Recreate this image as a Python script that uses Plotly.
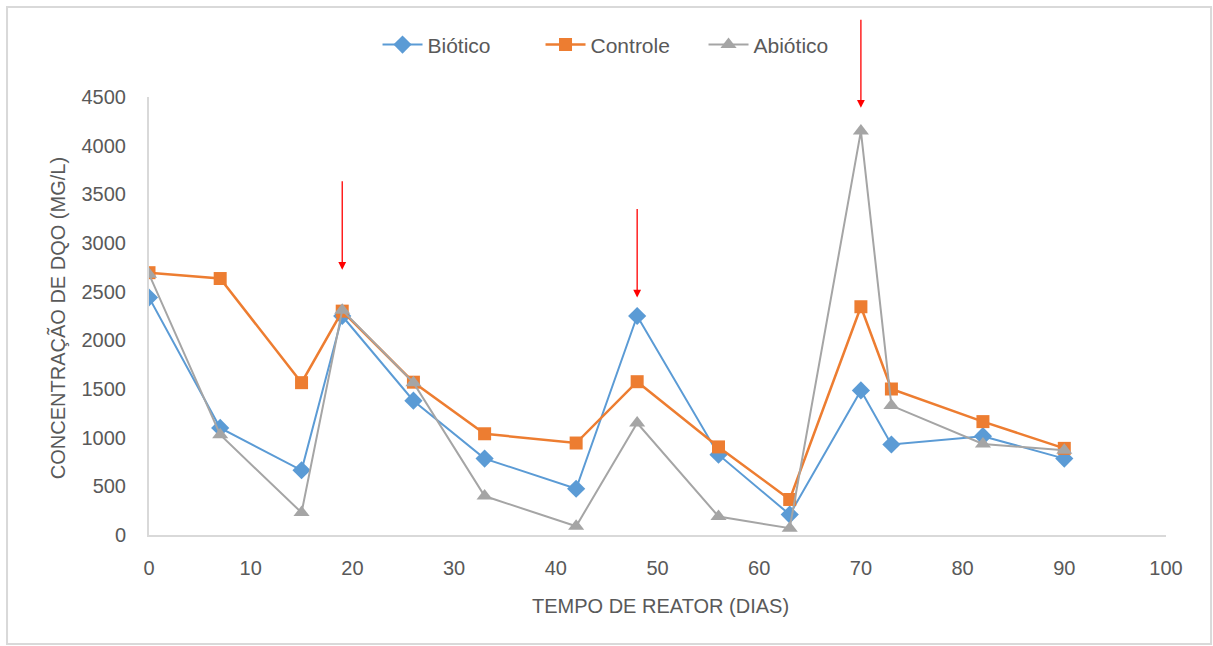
import plotly.graph_objects as go

days = [0, 7, 15, 19, 26, 33, 42, 48, 56, 63, 70, 73, 82, 90]
biotico = [2440, 1100, 665, 2250, 1380, 785, 475, 2250, 825, 210, 1485, 930, 1015, 785]
controle = [2695, 2635, 1565, 2300, 1570, 1040, 945, 1575, 905, 365, 2345, 1500, 1165, 890]
abiotico = [2680, 1030, 230, 2310, 1565, 400, 90, 1150, 190, 70, 4150, 1330, 935, 870]

arrow_days = [19, 48, 70]
arrow_tips = [2725, 2440, 4390]
arrow_starts = [3650, 3365, 5310]

FONT = "Liberation Sans"
TXT = "#595959"

fig = go.Figure()
fig.add_trace(go.Scatter(x=days, y=biotico, name="Biótico", mode="lines+markers",
                         line=dict(color="#5B9BD5", width=2),
                         marker=dict(symbol="diamond", size=14, color="#5B9BD5")))
fig.add_trace(go.Scatter(x=days, y=controle, name="Controle", mode="lines+markers",
                         line=dict(color="#ED7D31", width=2.5),
                         marker=dict(symbol="square", size=13, color="#ED7D31")))
fig.add_trace(go.Scatter(x=days, y=abiotico, name="Abiótico", mode="lines+markers",
                         line=dict(color="#A5A5A5", width=2),
                         marker=dict(symbol="triangle-up", size=14, color="#A5A5A5")))

for d, tip, st in zip(arrow_days, arrow_tips, arrow_starts):
    fig.add_annotation(x=d, y=tip, ax=d, ay=st, xref="x", yref="y", axref="x", ayref="y",
                       text="", showarrow=True, arrowhead=2, arrowsize=1.2, arrowwidth=1.3,
                       arrowcolor="#FF0000")

fig.add_annotation(text="TEMPO DE REATOR (DIAS)", xref="paper", yref="paper",
                   x=0.5025, y=-0.162, xanchor="center", yanchor="middle", showarrow=False,
                   font=dict(family=FONT, size=20, color=TXT))
fig.add_annotation(text="CONCENTRAÇÃO DE DQO (MG/L)", xref="paper", yref="paper",
                   x=-0.0905, y=0.495, xanchor="center", yanchor="middle", showarrow=False,
                   textangle=-90, font=dict(family=FONT, size=20, color=TXT))

# outer chart border
fig.add_shape(type="rect", xref="paper", yref="paper",
              x0=-0.1396, x1=1.0443, y0=-0.2489, y1=1.2055,
              line=dict(color="#D9D9D9", width=2), fillcolor="rgba(0,0,0,0)", layer="below")

fig.update_layout(
    width=1213, height=646,
    margin=dict(l=149, r=47, t=97, b=111),
    plot_bgcolor="white", paper_bgcolor="white",
    font=dict(family=FONT, size=20, color=TXT),
    showlegend=True,
    legend=dict(orientation="h", x=0.2247, y=1.119, xanchor="left", yanchor="middle",
                font=dict(family=FONT, size=21, color=TXT), itemwidth=40,
                entrywidth=108, entrywidthmode="pixels",
                bgcolor="rgba(0,0,0,0)"),
    xaxis=dict(range=[0, 100], tickvals=[0, 10, 20, 30, 40, 50, 60, 70, 80, 90, 100],
               showgrid=False, zeroline=False, showline=True, linecolor="#D9D9D9", linewidth=2,
               ticks="outside", ticklen=14, tickcolor="rgba(0,0,0,0)",
               tickfont=dict(family=FONT, size=20, color=TXT)),
    yaxis=dict(range=[0, 4500], tickvals=[0, 500, 1000, 1500, 2000, 2500, 3000, 3500, 4000, 4500],
               showgrid=False, zeroline=False, showline=True, linecolor="#D9D9D9", linewidth=2,
               ticks="outside", ticklen=17, tickcolor="rgba(0,0,0,0)",
               tickfont=dict(family=FONT, size=20, color=TXT)),
)

fig.write_html("out.html")
